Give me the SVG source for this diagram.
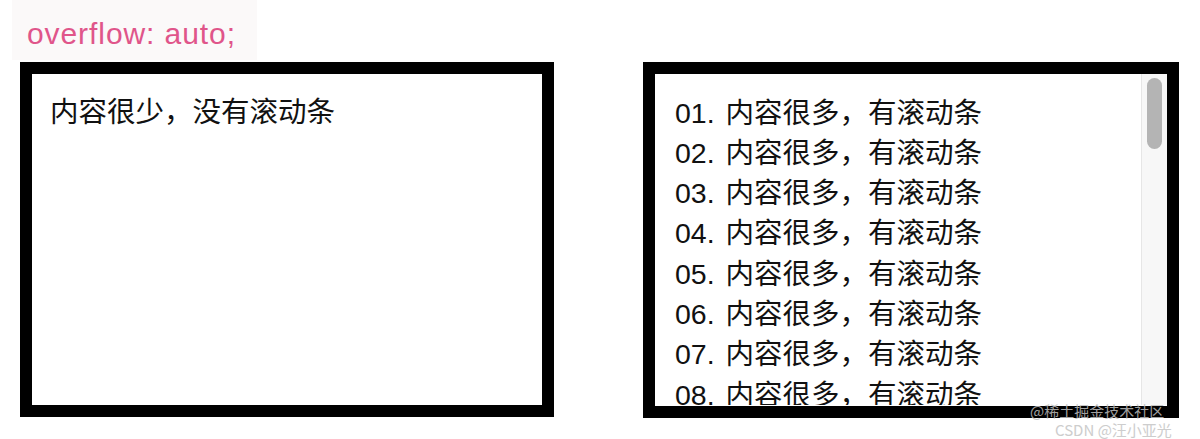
<svg xmlns="http://www.w3.org/2000/svg" width="1200" height="439" viewBox="0 0 1200 439">
<style>
.t{font-family:"Liberation Sans","Noto Sans CJK SC",sans-serif;font-size:28.5px;fill:#111;word-spacing:3px}
.box{fill:#fff;stroke:#000;stroke-width:12}
.wm{font-family:"Noto Sans CJK SC","Liberation Sans",sans-serif;font-size:15px}
</style>
<defs>
<clipPath id="clipR"><rect x="655" y="74" width="486" height="331"/></clipPath>
</defs>
<rect width="1200" height="439" fill="#fff"/>
<g id="label">
<rect x="12" y="0" width="245" height="60" fill="#fbf9f9"/>
<text x="27" y="44" font-family="Liberation Sans, Arial, sans-serif" font-size="30" fill="#e0558a" textLength="208" lengthAdjust="spacing">overflow: auto;</text>
</g>
<g id="box-left">
<rect class="box" x="26" y="68" width="522" height="343"/>
<text class="t" x="50" y="122">内容很少，没有滚动条</text>
</g>
<g id="box-right">
<rect class="box" x="649" y="68" width="524" height="344"/>
<g clip-path="url(#clipR)">
<text class="t" x="675" y="122.5">01. 内容很多，有滚动条</text>
<text class="t" x="675" y="162.8">02. 内容很多，有滚动条</text>
<text class="t" x="675" y="203.1">03. 内容很多，有滚动条</text>
<text class="t" x="675" y="243.4">04. 内容很多，有滚动条</text>
<text class="t" x="675" y="283.7">05. 内容很多，有滚动条</text>
<text class="t" x="675" y="324">06. 内容很多，有滚动条</text>
<text class="t" x="675" y="364.3">07. 内容很多，有滚动条</text>
<text class="t" x="675" y="404.6">08. 内容很多，有滚动条</text>
</g>
<g id="scrollbar">
<rect x="1141" y="74" width="26" height="331" fill="#f7f7f7"/>
<line x1="1141.5" y1="74" x2="1141.5" y2="405" stroke="#e6e6e6" stroke-width="1"/>
<rect x="1147" y="78" width="15" height="71" rx="7.5" fill="#b4b4b4"/>
</g>
</g>
<g id="watermark">
<text class="wm" x="1030" y="417" fill="#bdbdbd" opacity="0.85">@稀土掘金技术社区</text>
<text class="wm" x="1055" y="436" fill="#c8c8c8" opacity="0.9">CSDN @汪小亚光</text>
</g>
</svg>
